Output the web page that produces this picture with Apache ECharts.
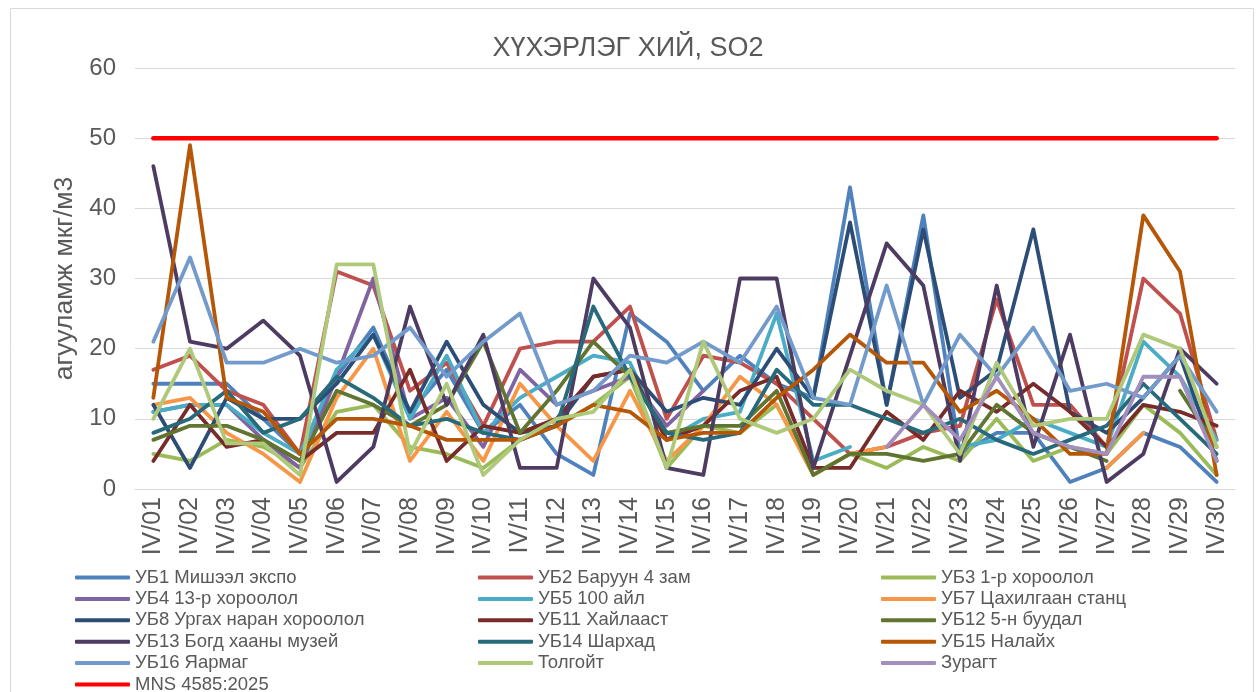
<!DOCTYPE html>
<html>
<head>
<meta charset="utf-8">
<script src="https://cdn.jsdelivr.net/npm/echarts@6/dist/echarts.min.js"></script>
<style>
  html, body { margin: 0; padding: 0; background: #fff; }
  #chart { width: 1256px; height: 692px; }
</style>
</head>
<body>
<div id="chart"></div>
<script>
// days IV/01 .. IV/30
const days = ['IV/01','IV/02','IV/03','IV/04','IV/05','IV/06','IV/07','IV/08','IV/09','IV/10',
  'IV/11','IV/12','IV/13','IV/14','IV/15','IV/16','IV/17','IV/18','IV/19','IV/20',
  'IV/21','IV/22','IV/23','IV/24','IV/25','IV/26','IV/27','IV/28','IV/29','IV/30']

const ub1  = [15,15,15,10,5,16,23,11,17,8, 12,5,2,25,21,14,19,15,13,43, 12,39,5,8,8,1,3,8,6,1]
const ub2  = [17,19,14,12,5,31,29,14,18,9, 20,21,21,26,10,19,18,15,10,5, 6,8,9,27,12,12,6,30,25,7]
const ub3  = [5,4,7,6,3,11,12,6,5,3, 7,9,12,16,3,9,8,12,2,5, 3,6,4,10,4,6,5,12,8,2]
const ub4  = [11,12,12,7,3,16,30,10,13,6, 17,12,14,16,9,14,null,null,null,null, null,null,null,null,null,null,null,null,null,null]
const ub5  = [11,12,12,8,5,17,22,10,19,8, 13,16,19,18,7,10,11,25,4,6, null,null,6,7,10,8,6,21,16,7]
const ub7  = [12,13,8,5,1,13,20,4,11,4, 15,9,4,14,4,9,16,12,2,5, 6,null,null,null,null,null,3,8,null,null]
const ub8  = [12,3,13,10,10,15,22,11,21,12, 8,9,16,17,11,13,12,20,13,38, 12,37,13,17,37,11,8,13,19,4]
const ub11 = [4,12,6,7,4,8,8,17,4,9, 8,10,16,17,7,9,14,16,3,3, 11,7,14,11,15,11,6,12,11,9]
const ub12 = [7,9,9,7,4,14,12,9,12,21, 8,14,21,16,8,9,9,14,2,5, 5,4,5,12,8,6,4,null,14,6]
const ub13 = [46,21,20,24,19,1,6,26,12,22, 3,3,30,23,3,2,30,30,3,19, 35,29,4,29,6,22,1,5,20,15]
const ub14 = [8,10,14,8,10,16,13,9,10,8, 7,9,26,16,8,7,8,17,12,12, 10,8,10,7,5,7,9,15,10,5]
const ub15 = [13,49,13,11,5,10,10,9,7,7, 7,9,12,11,7,8,8,13,17,22, 18,18,11,14,10,5,5,39,31,2]
const ub16 = [21,33,18,18,20,18,19,23,16,21, 25,12,14,19,18,21,18,26,13,12, 29,12,22,16,23,14,15,13,19,11]
const tolgoit = [10,20,6.5,6.5,2,32,32,5,15,2, 7,10,11,17,3,21,10,8,10,17, 14,12,5,18,9,10,10,22,20,6]
const zuragt = [null,null,null,null,null,null,null,null,null,null, null,null,null,null,null,null,null,null,null,null, 6,12,7,16,8,6,5,16,16,4]
const mns = days.map(() => 50)

const stations = [
  { name: 'УБ1 Мишээл экспо', data: ub1, color: '#4F81BD' },
  { name: 'УБ2 Баруун 4 зам', data: ub2, color: '#C0504D' },
  { name: 'УБ3 1-р хороолол', data: ub3, color: '#9BBB59' },
  { name: 'УБ4 13-р хороолол', data: ub4, color: '#8064A2' },
  { name: 'УБ5 100 айл', data: ub5, color: '#4BACC6' },
  { name: 'УБ7 Цахилгаан станц', data: ub7, color: '#F79646' },
  { name: 'УБ8 Ургах наран хороолол', data: ub8, color: '#2C4D75' },
  { name: 'УБ11 Хайлааст', data: ub11, color: '#772C2A' },
  { name: 'УБ12 5-н буудал', data: ub12, color: '#5F7530' },
  { name: 'УБ13 Богд хааны музей', data: ub13, color: '#4D3B62' },
  { name: 'УБ14 Шархад', data: ub14, color: '#276A7C' },
  { name: 'УБ15 Налайх', data: ub15, color: '#B65708' },
  { name: 'УБ16 Яармаг', data: ub16, color: '#729ACA' },
  { name: 'Толгойт', data: tolgoit, color: '#AFC97A' },
  { name: 'Зурагт', data: zuragt, color: '#A18FBE' },
  { name: 'MNS 4585:2025', data: mns, color: '#FF0000' }
]

const grey = '#595959'
const font = 'Liberation Sans, Arial, sans-serif'

// легенд 3 баганаар
function legendCol(left, names) {
  return {
    orient: 'vertical',
    left: left,
    top: 568,
    height: 160,
    padding: 0,
    itemWidth: 55,
    itemHeight: 4,
    itemGap: 2.4,
    icon: 'roundRect',
    textStyle: { color: grey, fontSize: 18.5, fontFamily: font, lineHeight: 18 },
    data: names
  }
}

const chart = echarts.init(document.getElementById('chart'))
chart.setOption({
  animation: false,
  title: {
    text: 'ХҮХЭРЛЭГ ХИЙ, SO2',
    left: 'center',
    top: 30,
    textStyle: { color: grey, fontSize: 27, fontWeight: 'normal', fontFamily: font }
  },
  graphic: [{
    type: 'rect',
    shape: { x: 10.5, y: 8.5, width: 1243, height: 700 },
    style: { fill: 'none', stroke: '#D9D9D9', lineWidth: 1 },
    silent: true
  }],
  legend: [
    legendCol(75, ['УБ1 Мишээл экспо', 'УБ4 13-р хороолол', 'УБ8 Ургах наран хороолол', 'УБ13 Богд хааны музей', 'УБ16 Яармаг', 'MNS 4585:2025']),
    legendCol(478, ['УБ2 Баруун 4 зам', 'УБ5 100 айл', 'УБ11 Хайлааст', 'УБ14 Шархад', 'Толгойт']),
    legendCol(881, ['УБ3 1-р хороолол', 'УБ7 Цахилгаан станц', 'УБ12 5-н буудал', 'УБ15 Налайх', 'Зурагт'])
  ],
  grid: { left: 135, right: 21, top: 68, bottom: 203 },
  xAxis: {
    type: 'category',
    data: days,
    axisLine: { lineStyle: { color: '#D9D9D9' } },
    axisTick: { show: false },
    axisLabel: { rotate: 90, color: grey, fontSize: 25, fontFamily: font, margin: 8, interval: 0 }
  },
  yAxis: {
    type: 'value',
    min: 0,
    max: 60,
    interval: 10,
    name: 'агууламж мкг/м3',
    nameLocation: 'middle',
    nameGap: 45,
    nameTextStyle: { color: grey, fontSize: 26.5, fontFamily: font },
    axisLine: { show: false },
    axisTick: { show: false },
    axisLabel: { color: grey, fontSize: 24, fontFamily: font, margin: 19 },
    splitLine: { lineStyle: { color: '#D9D9D9', width: 1 } }
  },
  series: stations.map(s => ({
    name: s.name,
    type: 'line',
    data: s.data,
    color: s.color,
    showSymbol: false,
    symbol: 'none',
    connectNulls: false,
    lineStyle: { width: s.name.startsWith('MNS') ? 4.5 : 3.8, color: s.color, cap: 'round', join: 'round' }
  }))
})
</script>
</body>
</html>
